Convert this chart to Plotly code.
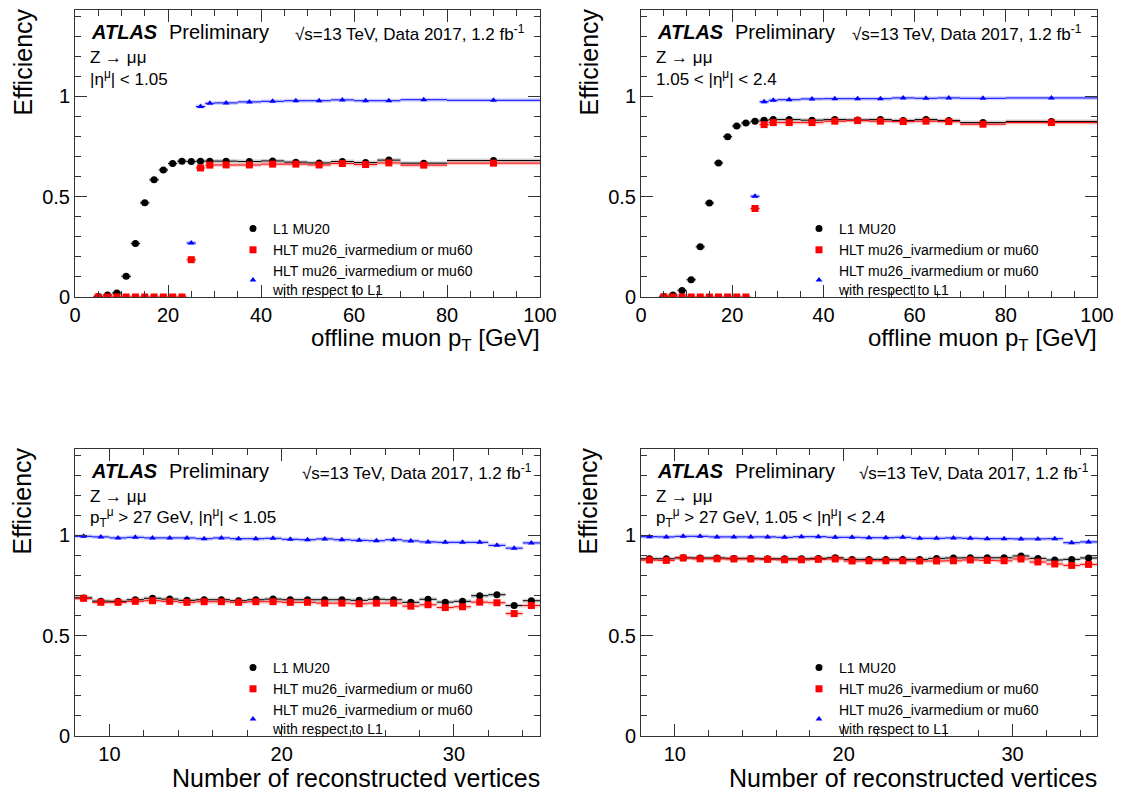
import numpy as np
import plotly.graph_objects as go

W, H = 1133, 794

# ---------------- data ----------------
pt_edges = [4, 6, 8, 10, 12, 14, 16, 18, 20, 22, 24, 26, 28, 30, 35, 40, 45, 50, 55, 60, 65, 70, 80, 100]
nvtx_edges = list(range(8, 36))

# |eta| < 1.05, vs pT
pt_barrel_l1 = [0.003, 0.010, 0.020, 0.103, 0.267, 0.469, 0.584, 0.633, 0.665, 0.677, 0.675, 0.677, 0.677,
                0.677, 0.675, 0.678, 0.672, 0.668, 0.675, 0.670, 0.682, 0.667, 0.680]
pt_barrel_hlt = [0, 0, 0, 0, 0, 0, 0, 0, 0, 0, 0.186, 0.643, 0.657,
                 0.658, 0.658, 0.662, 0.662, 0.658, 0.665, 0.660, 0.668, 0.657, 0.667]
pt_barrel_rel = [None, None, None, None, None, None, None, None, None, None, 0.269, 0.949, 0.965,
                 0.967, 0.972, 0.975, 0.978, 0.978, 0.982, 0.978, 0.978, 0.983, 0.980]

# 1.05 < |eta| < 2.4, vs pT
pt_endcap_l1 = [0.003, 0.010, 0.033, 0.086, 0.250, 0.468, 0.668, 0.799, 0.852, 0.867, 0.876, 0.881, 0.884,
                0.884, 0.881, 0.884, 0.882, 0.884, 0.879, 0.884, 0.879, 0.869, 0.874]
pt_endcap_hlt = [0, 0, 0, 0, 0, 0, 0, 0, 0, 0, 0.441, 0.859, 0.869,
                 0.869, 0.869, 0.876, 0.879, 0.876, 0.874, 0.876, 0.874, 0.861, 0.869]
pt_endcap_rel = [None, None, None, None, None, None, None, None, None, None, 0.502, 0.973, 0.980,
                 0.983, 0.987, 0.988, 0.988, 0.988, 0.992, 0.990, 0.992, 0.990, 0.992]

# |eta| < 1.05, vs number of vertices
nv_barrel_l1 = [0.688, 0.672, 0.671, 0.679, 0.686, 0.682, 0.676, 0.679, 0.679, 0.674, 0.679, 0.682, 0.679, 0.679,
                0.679, 0.679, 0.676, 0.681, 0.679, 0.666, 0.681, 0.667, 0.671, 0.699, 0.704, 0.650, 0.674]
nv_barrel_hlt = [0.686, 0.666, 0.666, 0.671, 0.674, 0.671, 0.666, 0.669, 0.669, 0.666, 0.669, 0.669, 0.666, 0.666,
                 0.662, 0.662, 0.659, 0.662, 0.662, 0.647, 0.654, 0.640, 0.644, 0.667, 0.664, 0.610, 0.650]
nv_barrel_rel = [0.995, 0.992, 0.987, 0.990, 0.987, 0.987, 0.987, 0.983, 0.987, 0.983, 0.983, 0.985, 0.980, 0.978,
                 0.982, 0.978, 0.975, 0.973, 0.978, 0.972, 0.967, 0.965, 0.965, 0.965, 0.950, 0.936, 0.962]

# 1.05 < |eta| < 2.4, vs number of vertices
nv_endcap_l1 = [0.883, 0.883, 0.888, 0.887, 0.887, 0.885, 0.885, 0.883, 0.883, 0.883, 0.885, 0.888, 0.880, 0.880,
                0.880, 0.880, 0.880, 0.885, 0.887, 0.888, 0.888, 0.888, 0.897, 0.885, 0.877, 0.880, 0.887]
nv_endcap_hlt = [0.877, 0.875, 0.887, 0.883, 0.883, 0.882, 0.882, 0.880, 0.878, 0.878, 0.880, 0.882, 0.872, 0.873,
                 0.873, 0.873, 0.872, 0.872, 0.873, 0.877, 0.875, 0.873, 0.882, 0.867, 0.857, 0.850, 0.855]
nv_endcap_rel = [0.993, 0.992, 0.995, 0.995, 0.992, 0.992, 0.992, 0.992, 0.990, 0.993, 0.993, 0.990, 0.990, 0.988,
                 0.988, 0.990, 0.985, 0.985, 0.987, 0.985, 0.983, 0.983, 0.982, 0.982, 0.983, 0.963, 0.967]

series_names = ["L1 MU20", "HLT mu26_ivarmedium or mu60", "HLT mu26_ivarmedium or mu60<br>with respect to L1"]
y_ticks = [0, 0.5, 1]
y_ticktext = ["0", "0.5", "1"]

# --------------- layout helpers ---------------
FONT = "Liberation Sans, Arial, Helvetica, sans-serif"
OFF = 8  # page body margin compensation


def px_x(p):
    return (p - OFF) / W


def px_y(p):
    return 1 - (p - OFF) / H


panels = [
    dict(edges=pt_edges, vals=(pt_barrel_l1, pt_barrel_hlt, pt_barrel_rel), box=(75, 540, 10, 297),
         xr=[0, 100], xt=[0, 20, 40, 60, 80, 100], minor=5, xtitle="offline muon p<sub>T</sub> [GeV]",
         tsize=24, line2="|η<sup>μ</sup>| < 1.05", erx=13),
    dict(edges=pt_edges, vals=(pt_endcap_l1, pt_endcap_hlt, pt_endcap_rel), box=(641, 1097, 10, 297),
         xr=[0, 100], xt=[0, 20, 40, 60, 80, 100], minor=5, xtitle="offline muon p<sub>T</sub> [GeV]",
         tsize=24, line2="1.05 < |η<sup>μ</sup>| < 2.4", erx=13),
    dict(edges=nvtx_edges, vals=(nv_barrel_l1, nv_barrel_hlt, nv_barrel_rel), box=(75, 540, 449, 736),
         xr=[8, 35], xt=[10, 20, 30], minor=2, xtitle="Number of reconstructed vertices",
         tsize=25, line2="p<sub>T</sub><sup>μ</sup> > 27 GeV, |η<sup>μ</sup>| < 1.05", erx=6),
    dict(edges=nvtx_edges, vals=(nv_endcap_l1, nv_endcap_hlt, nv_endcap_rel), box=(641, 1097, 449, 736),
         xr=[8, 35], xt=[10, 20, 30], minor=2, xtitle="Number of reconstructed vertices",
         tsize=25, line2="p<sub>T</sub><sup>μ</sup> > 27 GeV, 1.05 < |η<sup>μ</sup>| < 2.4", erx=6),
]

colors = ["#000000", "#ff0000", "#0000ff"]
bands = ["rgba(0,0,0,0.18)", "rgba(255,0,0,0.2)", "rgba(0,0,255,0.18)"]
symbols = ["circle", "square", "triangle-up"]
sizes = [7, 7, 6]

fig = go.Figure()
annotations = []
layout_axes = {}


def ann(x, y, text, size, xanchor="left", yanchor="middle", **kw):
    return dict(x=px_x(x), y=px_y(y), xref="paper", yref="paper", text=text, showarrow=False,
                xanchor=xanchor, yanchor=yanchor, font=dict(family=FONT, size=size, color="black"), **kw)


for i, p in enumerate(panels):
    n = "" if i == 0 else str(i + 1)
    xa, ya = "x" + n, "y" + n
    leg = "legend" + n
    edges = np.array(p["edges"], dtype=float)
    centers = (edges[:-1] + edges[1:]) / 2
    half = (edges[1:] - edges[:-1]) / 2
    for k in range(3):
        yv = p["vals"][k]
        # light error band
        fig.add_trace(go.Scatter(
            x=centers, y=yv, mode="markers", xaxis=xa, yaxis=ya,
            marker=dict(size=1, opacity=0), showlegend=False, hoverinfo="skip",
            error_x=dict(type="data", array=half, symmetric=True, color=bands[k], thickness=4, width=0),
        ))
    for k in range(3):
        yv = p["vals"][k]
        fig.add_trace(go.Scatter(
            x=centers, y=yv, mode="markers", xaxis=xa, yaxis=ya, name=series_names[k],
            legend=leg, showlegend=True,
            marker=dict(symbol=symbols[k], size=sizes[k], color=colors[k], line=dict(width=0)),
            error_x=dict(type="data", array=half, symmetric=True, color=colors[k], thickness=1, width=0),
        ))

    l, r, t, b = p["box"]
    common_axis = dict(showline=True, linecolor="#333", linewidth=1, mirror="ticks", ticks="inside",
                       ticklen=12, tickwidth=1, tickcolor="#333", showgrid=False, zeroline=False,
                       automargin=False,
                       tickfont=dict(family=FONT, size=20, color="black"))
    layout_axes["xaxis" + n] = dict(common_axis, domain=[px_x(l), px_x(r)], anchor=ya, range=p["xr"],
                                    tickvals=p["xt"], ticktext=[str(v) for v in p["xt"]],
                                    minor=dict(dtick=p["minor"], tick0=0, ticklen=6, ticks="inside",
                                               tickcolor="#333"))
    layout_axes["yaxis" + n] = dict(common_axis, domain=[px_y(b), px_y(t)], anchor=xa, range=[0, 1.43],
                                    tickvals=y_ticks, ticktext=y_ticktext,
                                    minor=dict(dtick=0.1, tick0=0, ticklen=6, ticks="inside", tickcolor="#333"))
    layout_axes[leg] = dict(x=px_x(l + 158), y=px_y(t + 203), xanchor="left", yanchor="top",
                            bgcolor="rgba(0,0,0,0)", font=dict(family=FONT, size=14, color="black"),
                            tracegroupgap=0)

    # texts
    annotations += [
        ann(l + 14, t + 22, "<b><i>ATLAS</i></b>", 20),
        ann(l + 92, t + 22, "Preliminary", 20),
        ann(r - p["erx"], t + 23, "√s=13 TeV, Data 2017, 1.2 fb<sup>-1</sup>", 17, xanchor="right"),
        ann(l + 13, t + 48, "Z → μμ", 17),
        ann(l + 13, t + 68, p["line2"], 17),
        ann(r + 2, b + 42, p["xtitle"], p["tsize"], xanchor="right"),
        ann(l - 53, t - 3, "Efficiency", 25, xanchor="center", yanchor="top", textangle=-90),
    ]

fig.update_layout(
    width=W, height=H, autosize=False,
    margin=dict(l=0, r=0, t=0, b=0),
    paper_bgcolor="white", plot_bgcolor="white",
    annotations=annotations,
    font=dict(family=FONT, color="black"),
    **layout_axes,
)

fig.write_html("out.html")
